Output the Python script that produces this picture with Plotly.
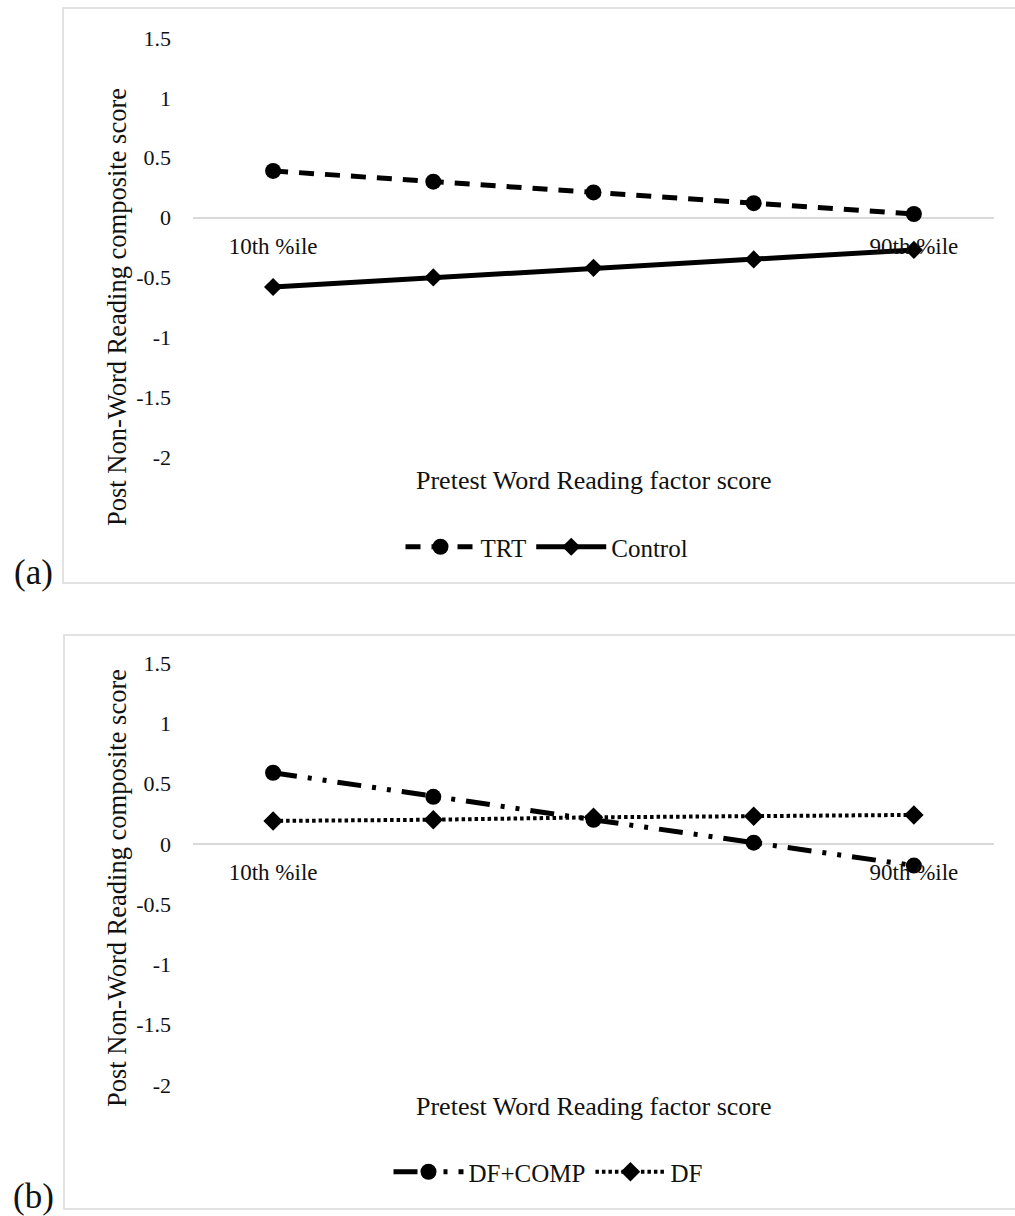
import plotly.graph_objects as go

# ---------------- data ----------------
x_labels = ["10th %ile", "", "", "", "90th %ile"]
x_pos = list(range(len(x_labels)))

trt = [0.39, 0.30, 0.21, 0.12, 0.03]
control = [-0.58, -0.50, -0.42, -0.35, -0.27]

df_comp = [0.59, 0.39, 0.20, 0.01, -0.18]
df = [0.19, 0.20, 0.22, 0.23, 0.24]

y_tickvals = [1.5, 1, 0.5, 0, -0.5, -1, -1.5, -2]
y_ticktext = ["1.5", "1", "0.5", "0", "-0.5", "-1", "-1.5", "-2"]

y_title = "Post Non-Word Reading composite score"
x_title = "Pretest Word Reading factor score"

# ---------------- layout constants ----------------
W, H = 1015, 1216
FONT = "Liberation Serif, Times New Roman, serif"
GRAY = "#d9d9d9"
INK = "#111111"
Y_MIN, Y_MAX = -2, 1.5


def py(pix):
    return 1 - pix / H


x_dom = [193 / W, 994 / W]
ya_dom = [py(457), py(38)]
yb_dom = [py(1085), py(663)]


def zero_pos(dom):
    return dom[0] + (0 - Y_MIN) / (Y_MAX - Y_MIN) * (dom[1] - dom[0])


fig = go.Figure()

# panel (a)
fig.add_trace(go.Scatter(
    x=x_pos, y=trt, name="TRT", mode="lines+markers",
    line=dict(color="black", width=5, dash="15px,11px"),
    marker=dict(symbol="circle", size=16, color="black"),
    xaxis="x", yaxis="y", legend="legend"))
fig.add_trace(go.Scatter(
    x=x_pos, y=control, name="Control", mode="lines+markers",
    line=dict(color="black", width=5),
    marker=dict(symbol="diamond", size=14, color="black"),
    xaxis="x", yaxis="y", legend="legend"))

# panel (b)
fig.add_trace(go.Scatter(
    x=x_pos, y=df_comp, name="DF+COMP", mode="lines+markers",
    line=dict(color="black", width=5, dash="24px,11px,4px,11px,4px,11px"),
    marker=dict(symbol="circle", size=16, color="black"),
    xaxis="x2", yaxis="y2", legend="legend2"))
fig.add_trace(go.Scatter(
    x=x_pos, y=df, name="DF", mode="lines+markers",
    line=dict(color="black", width=4, dash="3.5px,3px"),
    marker=dict(symbol="diamond", size=15, color="black"),
    xaxis="x2", yaxis="y2", legend="legend2"))

xaxis_common = dict(
    domain=x_dom, range=[-0.5, len(x_labels) - 0.5],
    tickvals=x_pos, ticktext=x_labels,
    showgrid=False, zeroline=False, showline=False, ticks="",
    tickfont=dict(family=FONT, size=23, color=INK),
    ticklabelstandoff=12,
    anchor="free",
)
yaxis_common = dict(
    range=[Y_MIN, Y_MAX], tickvals=y_tickvals, ticktext=y_ticktext,
    showgrid=False, zeroline=True, zerolinecolor=GRAY, zerolinewidth=1.5,
    showline=False, ticks="", ticklabelstandoff=21,
    tickfont=dict(family=FONT, size=22, color=INK),
)

legend_common = dict(
    orientation="h", xanchor="center", yanchor="middle",
    font=dict(family=FONT, size=25, color=INK),
    bgcolor="rgba(0,0,0,0)", itemwidth=70, tracegroupgap=0,
)

title_font = dict(family=FONT, size=26.5, color=INK)
fig.update_layout(
    width=W, height=H,
    margin=dict(l=0, r=0, t=0, b=0, autoexpand=False),
    paper_bgcolor="white", plot_bgcolor="white",
    xaxis=dict(**xaxis_common, position=zero_pos(ya_dom)),
    yaxis=dict(**yaxis_common, domain=ya_dom, anchor="x"),
    xaxis2=dict(**xaxis_common, position=zero_pos(yb_dom)),
    yaxis2=dict(**yaxis_common, domain=yb_dom, anchor="x2"),
    legend=dict(**legend_common, x=547 / W, y=py(547)),
    legend2=dict(**legend_common, x=548 / W, y=py(1172)),
    shapes=[
        dict(type="rect", xref="paper", yref="paper",
             x0=63 / W, x1=1.02, y0=py(583), y1=py(8),
             line=dict(color=GRAY, width=1.5), layer="below"),
        dict(type="rect", xref="paper", yref="paper",
             x0=64 / W, x1=1.02, y0=py(1209), y1=py(635),
             line=dict(color=GRAY, width=1.5), layer="below"),
    ],
    annotations=[
        dict(text=y_title, xref="paper", yref="paper", x=117 / W, y=py(307),
             textangle=-90, showarrow=False, font=title_font,
             xanchor="center", yanchor="middle"),
        dict(text=y_title, xref="paper", yref="paper", x=117 / W, y=py(888),
             textangle=-90, showarrow=False, font=title_font,
             xanchor="center", yanchor="middle"),
        dict(text=x_title, xref="paper", yref="paper", x=594 / W, y=py(480),
             showarrow=False, font=dict(family=FONT, size=26, color=INK),
             xanchor="center", yanchor="middle"),
        dict(text=x_title, xref="paper", yref="paper", x=594 / W, y=py(1106),
             showarrow=False, font=dict(family=FONT, size=26, color=INK),
             xanchor="center", yanchor="middle"),
        dict(text="(a)", xref="paper", yref="paper", x=33 / W, y=py(572),
             showarrow=False, font=dict(family=FONT, size=35, color=INK),
             xanchor="center", yanchor="middle"),
        dict(text="(b)", xref="paper", yref="paper", x=33 / W, y=py(1196),
             showarrow=False, font=dict(family=FONT, size=35, color=INK),
             xanchor="center", yanchor="middle"),
    ],
)

fig.write_html(
    "out.html",
    config={"displayModeBar": False},
    post_script="document.body.style.margin='0';document.body.style.overflow='hidden';",
)
